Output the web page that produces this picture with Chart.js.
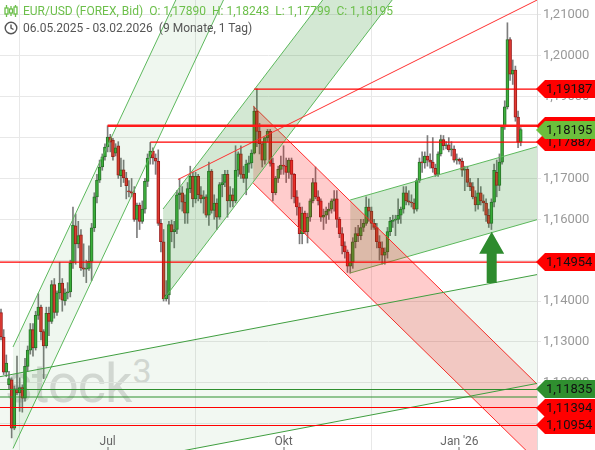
<!DOCTYPE html>
<html>
<head>
<meta charset="utf-8">
<script src="https://cdn.jsdelivr.net/npm/chart.js@4.4.1/dist/chart.umd.min.js"></script>
<style>
  html, body { margin: 0; padding: 0; background: #fff; }
  #wrap { position: relative; width: 595px; height: 450px; overflow: hidden; font-family: Roboto, "Liberation Sans", Arial, sans-serif; }
  #mark { position: absolute; left: 5px; top: 340px; font-size: 54px; line-height: 62px; color: #dcdcdc; z-index: 0; letter-spacing: -1px; }
  #mark sup { font-size: 34px; vertical-align: 19px; margin-left: 1px; }
  canvas { position: absolute; left: 0; top: 0; z-index: 1; }
  #head { position: absolute; left: 4px; top: 3px; z-index: 2; font-size: 12px; line-height: 17px; }
  #head div { white-space: nowrap; height: 17px; }
  #head .l1 { color: #6cbf4a; }
  #head .l2 { color: #555; }
  #head svg { vertical-align: -3px; margin-right: 5px; }
  #head span { white-space: pre; }
  #head span + span { margin-left: 6px; }
</style>
</head>
<body>
<div id="wrap">
  <div id="mark">stock<sup>3</sup></div>
  <canvas id="chart" width="595" height="450"></canvas>
  <div id="head"><div class="l1"><svg width="14" height="14" viewBox="0 0 14 14"><g fill="none" stroke="#6cbf4a" stroke-width="1.3"><line x1="2.5" y1="1" x2="2.5" y2="13"/><rect x="1" y="4" width="3" height="6" fill="#fff"/><line x1="7" y1="2" x2="7" y2="12"/><rect x="5.5" y="5" width="3" height="4" fill="#fff"/><line x1="11.5" y1="1" x2="11.5" y2="13"/><rect x="10" y="3" width="3" height="7" fill="#fff"/></g></svg><span id="title">EUR/USD (FOREX, Bid)</span><span id="ohlc"></span></div><div class="l2"><svg width="14" height="14" viewBox="0 0 14 14"><g fill="none" stroke="#555" stroke-width="1.4"><circle cx="7" cy="7" r="5.8"/><polyline points="7,3.5 7,7 9.5,8.5"/></g></svg><span>06.05.2025 - 03.02.2026</span><span>(9 Monate, 1 Tag)</span></div></div>
</div>
<script>
// daily candles, index 0 = 06.05.2025 ... 195 = 03.02.2026
const OPEN = [
  1.1372, 1.1312, 1.1226, 1.1195, 1.1207, 1.1089, 1.1185, 1.1175, 1.1188, 1.1162,
  1.1240, 1.1280, 1.1330, 1.1285, 1.1365, 1.1385, 1.1325, 1.1290, 1.1370, 1.1350,
  1.1440, 1.1372, 1.1420, 1.1444, 1.1400, 1.1420, 1.1422, 1.1493, 1.1584, 1.1540,
  1.1562, 1.1481, 1.1478, 1.1480, 1.1497, 1.1579, 1.1655, 1.1696, 1.1728, 1.1753,
  1.1777, 1.1801, 1.1794, 1.1762, 1.1780, 1.1707, 1.1721, 1.1701, 1.1668, 1.1667,
  1.1664, 1.1600, 1.1635, 1.1595, 1.1625, 1.1693, 1.1750, 1.1767, 1.1750, 1.1742,
  1.1590, 1.1545, 1.1405, 1.1415, 1.1587, 1.1570, 1.1575, 1.1660, 1.1665, 1.1642,
  1.1615, 1.1675, 1.1705, 1.1650, 1.1705, 1.1660, 1.1650, 1.1655, 1.1610, 1.1718,
  1.1622, 1.1640, 1.1605, 1.1685, 1.1690, 1.1710, 1.1645, 1.1660, 1.1645, 1.1720,
  1.1760, 1.1710, 1.1700, 1.1735, 1.1738, 1.1762, 1.1865, 1.1815, 1.1785, 1.1745,
  1.1800, 1.1815, 1.1737, 1.1665, 1.1700, 1.1722, 1.1733, 1.1730, 1.1715, 1.1745,
  1.1710, 1.1655, 1.1630, 1.1565, 1.1615, 1.1570, 1.1605, 1.1645, 1.1690, 1.1655,
  1.1645, 1.1605, 1.1610, 1.1620, 1.1625, 1.1645, 1.1650, 1.1600, 1.1565, 1.1535,
  1.1520, 1.1485, 1.1495, 1.1545, 1.1565, 1.1560, 1.1580, 1.1590, 1.1630, 1.1620,
  1.1590, 1.1580, 1.1545, 1.1530, 1.1512, 1.1520, 1.1570, 1.1595, 1.1598, 1.1600,
  1.1610, 1.1625, 1.1665, 1.1645, 1.1642, 1.1640, 1.1625, 1.1695, 1.1740, 1.1738,
  1.1755, 1.1745, 1.1740, 1.1725, 1.1710, 1.1760, 1.1795, 1.1780, 1.1782, 1.1770,
  1.1772, 1.1745, 1.1747, 1.1742, 1.1720, 1.1722, 1.1690, 1.1680, 1.1655, 1.1635,
  1.1665, 1.1645, 1.1640, 1.1610, 1.1590, 1.1642, 1.1715, 1.1683, 1.1740, 1.1826,
  1.1875, 1.2040, 1.1955, 1.1965, 1.1850, 1.1789
];
const HIGH = [
  1.1380, 1.1330, 1.1268, 1.1228, 1.1212, 1.1192, 1.1265, 1.1212, 1.1195, 1.1260,
  1.1290, 1.1345, 1.1345, 1.1375, 1.1418, 1.1390, 1.1330, 1.1385, 1.1385, 1.1450,
  1.1455, 1.1425, 1.1495, 1.1455, 1.1430, 1.1445, 1.1500, 1.1630, 1.1613, 1.1595,
  1.1575, 1.1540, 1.1500, 1.1535, 1.1590, 1.1665, 1.1710, 1.1745, 1.1760, 1.1785,
  1.1829, 1.1808, 1.1798, 1.1785, 1.1790, 1.1750, 1.1745, 1.1715, 1.1695, 1.1700,
  1.1680, 1.1640, 1.1640, 1.1645, 1.1700, 1.1760, 1.1788, 1.1775, 1.1760, 1.1770,
  1.1600, 1.1575, 1.1450, 1.1595, 1.1598, 1.1595, 1.1670, 1.1700, 1.1680, 1.1660,
  1.1690, 1.1730, 1.1715, 1.1715, 1.1710, 1.1680, 1.1670, 1.1660, 1.1740, 1.1722,
  1.1660, 1.1650, 1.1690, 1.1710, 1.1720, 1.1720, 1.1680, 1.1675, 1.1780, 1.1765,
  1.1780, 1.1730, 1.1745, 1.1755, 1.1770, 1.1875, 1.1919, 1.1835, 1.1790, 1.1800,
  1.1820, 1.1820, 1.1750, 1.1705, 1.1730, 1.1755, 1.1780, 1.1750, 1.1750, 1.1750,
  1.1712, 1.1670, 1.1640, 1.1630, 1.1620, 1.1615, 1.1650, 1.1700, 1.1728, 1.1670,
  1.1650, 1.1625, 1.1630, 1.1640, 1.1650, 1.1670, 1.1670, 1.1605, 1.1580, 1.1545,
  1.1525, 1.1515, 1.1555, 1.1580, 1.1585, 1.1600, 1.1600, 1.1655, 1.1650, 1.1630,
  1.1600, 1.1590, 1.1560, 1.1545, 1.1530, 1.1580, 1.1605, 1.1610, 1.1610, 1.1650,
  1.1630, 1.1680, 1.1680, 1.1670, 1.1660, 1.1650, 1.1700, 1.1750, 1.1765, 1.1765,
  1.1805, 1.1760, 1.1800, 1.1735, 1.1765, 1.1806, 1.1805, 1.1790, 1.1800, 1.1790,
  1.1780, 1.1760, 1.1750, 1.1750, 1.1730, 1.1730, 1.1700, 1.1690, 1.1670, 1.1700,
  1.1680, 1.1660, 1.1650, 1.1625, 1.1650, 1.1735, 1.1745, 1.1760, 1.1830, 1.1890,
  1.2081, 1.2045, 1.1990, 1.1975, 1.1865, 1.18243
];
const LOW = [
  1.1305, 1.1220, 1.1215, 1.1185, 1.1065, 1.1085, 1.1170, 1.1130, 1.1128, 1.1155,
  1.1228, 1.1270, 1.1265, 1.1280, 1.1355, 1.1305, 1.1210, 1.1285, 1.1315, 1.1345,
  1.1358, 1.1365, 1.1405, 1.1375, 1.1390, 1.1405, 1.1410, 1.1480, 1.1490, 1.1530,
  1.1475, 1.1460, 1.1445, 1.1475, 1.1450, 1.1570, 1.1640, 1.1690, 1.1720, 1.1745,
  1.1765, 1.1765, 1.1745, 1.1755, 1.1700, 1.1680, 1.1690, 1.1650, 1.1655, 1.1655,
  1.1595, 1.1555, 1.1575, 1.1590, 1.1615, 1.1680, 1.1735, 1.1735, 1.1710, 1.1585,
  1.1520, 1.1400, 1.1400, 1.1392, 1.1545, 1.1530, 1.1565, 1.1625, 1.1620, 1.1590,
  1.1590, 1.1665, 1.1630, 1.1640, 1.1645, 1.1640, 1.1615, 1.1605, 1.1585, 1.1615,
  1.1600, 1.1575, 1.1600, 1.1655, 1.1680, 1.1605, 1.1630, 1.1630, 1.1640, 1.1705,
  1.1700, 1.1690, 1.1660, 1.1715, 1.1725, 1.1760, 1.1778, 1.1760, 1.1728, 1.1735,
  1.1790, 1.1730, 1.1645, 1.1660, 1.1690, 1.1710, 1.1710, 1.1690, 1.1700, 1.1650,
  1.1640, 1.1610, 1.1540, 1.1540, 1.1565, 1.1542, 1.1595, 1.1640, 1.1650, 1.1635,
  1.1595, 1.1575, 1.1590, 1.1600, 1.1615, 1.1620, 1.1580, 1.1555, 1.1515, 1.1505,
  1.1470, 1.1468, 1.1480, 1.1530, 1.1545, 1.1550, 1.1570, 1.1585, 1.1595, 1.1575,
  1.1575, 1.1530, 1.1500, 1.1490, 1.1490, 1.1505, 1.1560, 1.1580, 1.1560, 1.1590,
  1.1590, 1.1615, 1.1635, 1.1635, 1.1630, 1.1615, 1.1620, 1.1690, 1.1715, 1.1725,
  1.1730, 1.1725, 1.1715, 1.1705, 1.1705, 1.1755, 1.1770, 1.1772, 1.1765, 1.1755,
  1.1740, 1.1735, 1.1735, 1.1705, 1.1670, 1.1680, 1.1670, 1.1650, 1.1620, 1.1625,
  1.1635, 1.1620, 1.1595, 1.1580, 1.1575, 1.1630, 1.1655, 1.1670, 1.1735, 1.1820,
  1.1870, 1.1940, 1.1930, 1.1840, 1.1775, 1.17799
];
const CLOSE = [
  1.1312, 1.1226, 1.1248, 1.1210, 1.1089, 1.1185, 1.1175, 1.1188, 1.1162, 1.1240,
  1.1280, 1.1330, 1.1285, 1.1365, 1.1385, 1.1325, 1.1290, 1.1370, 1.1350, 1.1440,
  1.1372, 1.1420, 1.1444, 1.1402, 1.1420, 1.1422, 1.1493, 1.1586, 1.1540, 1.1560,
  1.1481, 1.1478, 1.1480, 1.1497, 1.1579, 1.1655, 1.1696, 1.1728, 1.1753, 1.1777,
  1.1801, 1.1789, 1.1753, 1.1775, 1.1708, 1.1721, 1.1701, 1.1682, 1.1667, 1.1664,
  1.1600, 1.1635, 1.1595, 1.1625, 1.1693, 1.1750, 1.1767, 1.1750, 1.1742, 1.1590,
  1.1545, 1.1405, 1.1415, 1.1587, 1.1570, 1.1575, 1.1660, 1.1665, 1.1642, 1.1615,
  1.1675, 1.1705, 1.1650, 1.1705, 1.1660, 1.1650, 1.1655, 1.1610, 1.1718, 1.1622,
  1.1640, 1.1605, 1.1685, 1.1690, 1.1710, 1.1645, 1.1660, 1.1645, 1.1720, 1.1760,
  1.1710, 1.1700, 1.1735, 1.1738, 1.1762, 1.1865, 1.1815, 1.1785, 1.1745, 1.1800,
  1.1815, 1.1737, 1.1665, 1.1700, 1.1722, 1.1733, 1.1730, 1.1715, 1.1745, 1.1710,
  1.1655, 1.1630, 1.1565, 1.1615, 1.1570, 1.1605, 1.1645, 1.1690, 1.1655, 1.1645,
  1.1605, 1.1610, 1.1620, 1.1625, 1.1645, 1.1650, 1.1600, 1.1565, 1.1535, 1.1520,
  1.1485, 1.1495, 1.1545, 1.1565, 1.1560, 1.1580, 1.1590, 1.1630, 1.1620, 1.1590,
  1.1580, 1.1545, 1.1530, 1.1512, 1.1520, 1.1570, 1.1595, 1.1598, 1.1600, 1.1610,
  1.1625, 1.1665, 1.1645, 1.1642, 1.1640, 1.1625, 1.1695, 1.1740, 1.1738, 1.1755,
  1.1745, 1.1740, 1.1725, 1.1710, 1.1760, 1.1795, 1.1780, 1.1782, 1.1770, 1.1772,
  1.1745, 1.1747, 1.1742, 1.1720, 1.1722, 1.1690, 1.1680, 1.1655, 1.1635, 1.1665,
  1.1645, 1.1640, 1.1610, 1.1590, 1.1642, 1.1720, 1.1683, 1.1740, 1.1826, 1.1875,
  1.2040, 1.1955, 1.1965, 1.1850, 1.1789, 1.18195
];

// axes
const X_MIN = -0.375, X_MAX = 201.1;
const Y_MIN = 1.10354, Y_MAX = 1.21367;
const Y_TICKS = [1.11, 1.12, 1.13, 1.14, 1.15, 1.16, 1.17, 1.18, 1.19, 1.20, 1.21];
const MONTH_TICKS = [40, 106, 172];
const MONTH_LABELS = ['Jul', 'Okt', "Jan '26"];

// trend channels: x from/to (candle index), upper and lower line prices at those x
const CH_STEEP = { x: [4.5, 110], up: [1.12875, 1.27540], lo: [1.10391, 1.25056] };
const CH_SUMMER = { x: [60.8, 160], up: [1.16252, 1.24724], lo: [1.14025, 1.22497] };
const CH_DOWN = { x: [94.6, 202], up: [1.18773, 1.11910], lo: [1.16888, 1.10025] };
const CH_WINTER = { x: [131, 202], up: [1.16472, 1.17793], lo: [1.14686, 1.16007] };
const CH_LONG = { x: [-0.4, 202], up: [1.12148, 1.14658], lo: [1.09484, 1.11994] };
const RISE_LINE = { x: [66.4, 202], y: [1.16974, 1.21395] };

// horizontal levels: price, start index
const RED_LEVELS = [[1.19187, 95], [1.17887, 56], [1.14954, -0.4], [1.11394, -0.4], [1.10954, -0.4]];
const RESIST = [1.18290, 40];
const GREEN_LEVELS = [[1.11835, -0.4], [1.11651, -0.4]];

// price tags on the right axis
const TAGS = [
  [1.18290, '#ff0000'], [1.19187, '#ff0000'], [1.17887, '#ff0000'], [1.18195, '#6cbf3c'],
  [1.14954, '#ff0000'], [1.10954, '#ff0000'], [1.11394, '#ff0000'], [1.11835, '#2f8f2f']
];

// green arrow: candle index, base price, tip price
const ARROW = { x: 184.1, from: 1.14441, to: 1.15697 };

const fmt = v => v.toFixed(5).replace('.', ',');
const last = CLOSE.length - 1;
document.getElementById('ohlc').textContent =
  'O: ' + fmt(OPEN[last]) + '  H: ' + fmt(HIGH[last]) + '  L: ' + fmt(LOW[last]) + '  C: ' + fmt(CLOSE[last]);

const isUp = OPEN.map((o, i) => CLOSE[i] >= o);
const wicks = OPEN.map((o, i) => ({ x: i, y: [LOW[i], HIGH[i]] }));
const bodies = OPEN.map((o, i) => ({ x: i, y: [Math.min(o, CLOSE[i]), Math.max(o, CLOSE[i])] }));

function seg(x, y, color, width, order) {
  return {
    type: 'line', data: [{ x: x[0], y: y[0] }, { x: x[1], y: y[1] }],
    borderColor: color, borderWidth: width || 1, pointRadius: 0, fill: false, order: order || 1
  };
}

function channel(ch, line, fillColor) {
  const a = seg(ch.x, ch.up, line, 1, 5);
  const b = seg(ch.x, ch.lo, line, 1, 5);
  b.fill = '-1';
  b.backgroundColor = fillColor;
  return [a, b];
}

const datasets = [
  { type: 'bar', data: wicks, backgroundColor: '#7d7d7d', barThickness: 1, grouped: false, order: 11 },
  {
    type: 'bar', data: bodies, grouped: false, order: 10, barThickness: 3, minBarLength: 1,
    backgroundColor: isUp.map(u => u ? '#3db23d' : '#e23a32'),
    borderColor: isUp.map(u => u ? '#2a6f2a' : '#9b1c1c'),
    borderWidth: 1, borderSkipped: false
  },
  ...channel(CH_LONG, '#3f9e3f', 'rgba(34,139,34,0.06)'),
  ...channel(CH_STEEP, '#5cb85c', 'rgba(34,139,34,0.07)'),
  ...channel(CH_SUMMER, '#5cb85c', 'rgba(34,139,34,0.2)'),
  ...channel(CH_DOWN, '#ff2a2a', 'rgba(255,0,0,0.2)'),
  ...channel(CH_WINTER, '#5cb85c', 'rgba(34,139,34,0.2)'),
  seg(RISE_LINE.x, RISE_LINE.y, '#ff3030', 1, 2),
  ...RED_LEVELS.map(l => seg([l[1], 202], [l[0], l[0]], '#ff0000', 1.2, 1)),
  ...GREEN_LEVELS.map(l => seg([l[1], 202], [l[0], l[0]], '#2f8f2f', 1.2, 1)),
  seg([RESIST[1], 202], [RESIST[0], RESIST[0]], '#ff1a1a', 2.6, 1)
];

const overlay = {
  id: 'overlay',
  afterDatasetsDraw(chart) {
    const { ctx, scales: { x, y } } = chart;
    const ax = x.getPixelForValue(ARROW.x);
    const yb = y.getPixelForValue(ARROW.from);
    const yt = y.getPixelForValue(ARROW.to);
    ctx.save();
    ctx.fillStyle = '#2e8b2e';
    ctx.beginPath();
    ctx.moveTo(ax - 5, yb);
    ctx.lineTo(ax - 5, yt + 22);
    ctx.lineTo(ax - 12.5, yt + 22);
    ctx.lineTo(ax, yt);
    ctx.lineTo(ax + 12.5, yt + 22);
    ctx.lineTo(ax + 5, yt + 22);
    ctx.lineTo(ax + 5, yb);
    ctx.closePath();
    ctx.fill();
    ctx.restore();
  },
  afterDraw(chart) {
    const { ctx, chartArea: area, scales: { x, y } } = chart;
    ctx.save();
    ctx.font = '12px Roboto, "Liberation Sans", Arial, sans-serif';
    ctx.fillStyle = '#666';
    ctx.textAlign = 'center';
    ctx.textBaseline = 'alphabetic';
    MONTH_TICKS.forEach((v, i) => {
      const px = x.getPixelForValue(v);
      ctx.fillText(MONTH_LABELS[i], px, 445);
      ctx.fillRect(Math.round(px) - 0.5, 447, 1, 3);
    });
    ctx.font = '13px Roboto, "Liberation Sans", Arial, sans-serif';
    ctx.textAlign = 'left';
    ctx.textBaseline = 'middle';
    TAGS.forEach(([p, col]) => {
      const yc = Math.round(y.getPixelForValue(p));
      const x0 = area.right - 1;
      ctx.beginPath();
      ctx.moveTo(x0, yc);
      ctx.lineTo(x0 + 9, yc - 9);
      ctx.lineTo(595, yc - 9);
      ctx.lineTo(595, yc + 9);
      ctx.lineTo(x0 + 9, yc + 9);
      ctx.closePath();
      ctx.fillStyle = col;
      ctx.fill();
      ctx.fillStyle = '#111';
      ctx.fillText(fmt(p), x0 + 10, yc + 1);
    });
    ctx.restore();
  }
};

new Chart(document.getElementById('chart'), {
  type: 'bar',
  data: { datasets },
  options: {
    responsive: false,
    animation: false,
    devicePixelRatio: 1,
    layout: { padding: 0, autoPadding: false },
    plugins: { legend: { display: false }, tooltip: { enabled: false } },
    scales: {
      x: {
        type: 'linear', min: X_MIN, max: X_MAX, offset: false,
        afterBuildTicks: s => { s.ticks = MONTH_TICKS.map(v => ({ value: v })); },
        ticks: { display: false },
        grid: { color: '#e8e8e8', drawTicks: false },
        border: { display: false },
        afterFit: s => { s.height = 0; s.paddingLeft = 0; s.paddingRight = 0; }
      },
      y: {
        position: 'right', min: Y_MIN, max: Y_MAX,
        afterBuildTicks: s => { s.ticks = Y_TICKS.map(v => ({ value: v })); },
        ticks: {
          color: '#999', padding: 2,
          font: { size: 13, family: 'Roboto, "Liberation Sans", Arial, sans-serif' },
          callback: v => fmt(v)
        },
        grid: { color: '#e8e8e8', tickLength: 4 },
        border: { color: '#dcdcdc' },
        afterFit: s => { s.width = 58; s.paddingTop = 0; s.paddingBottom = 0; }
      }
    }
  },
  plugins: [overlay]
});
</script>
</body>
</html>
